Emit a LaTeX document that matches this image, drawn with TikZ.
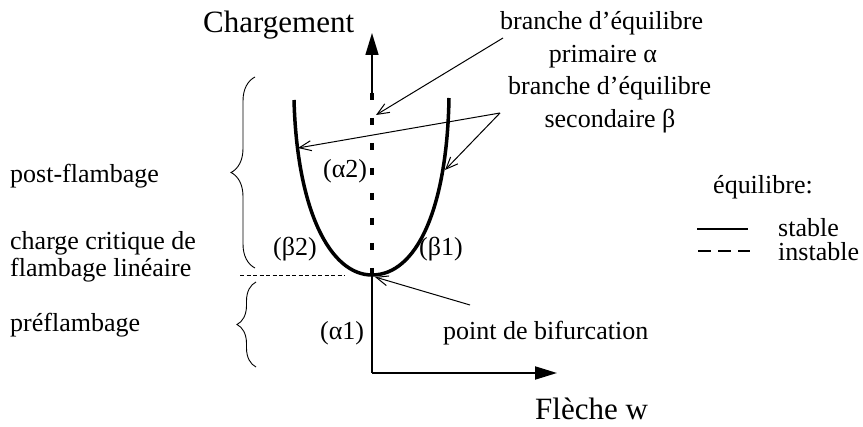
\documentclass[tikz,border=0pt]{standalone}
\usepackage{fontspec}
\setmainfont{Liberation Serif}
\usetikzlibrary{arrows.meta,decorations.pathreplacing}
\begin{document}
\begin{tikzpicture}[x=1pt,y=-1pt,
  lab/.style={inner sep=0pt,font=\fontsize{26}{30}\selectfont},
  biglab/.style={inner sep=0pt,font=\fontsize{31}{36}\selectfont},
  branch/.style={line width=3.5pt},
  ptr/.style={line width=1pt,-{Straight Barb[length=12pt,width=10pt]}},
  axisarrow/.style={-{Triangle[length=22pt,width=13pt]}},
  bracestyle/.style={line width=0.9pt,decorate}
]
\useasboundingbox (0,0) rectangle (863,427);

% coordinates
\coordinate (O) at (372,373);
\coordinate (B) at (372,275);
\coordinate (Ytop) at (372,33);
\coordinate (Xend) at (557,373);
\coordinate (Ltop) at (294,100);
\coordinate (Rtop) at (449,98);

% axes
\draw[line width=1.6pt,axisarrow] (372,100) -- (Ytop);
\draw[line width=2.5pt] (B) -- (O);
\draw[line width=2pt,axisarrow] (O) -- (Xend);
\draw[line width=4pt,dash pattern=on 7pt off 18pt] (372,93) -- (B);

% secondary branches
\draw[branch] (Ltop) .. controls (297,210) and (330,275) .. (B)
              .. controls (416,275) and (447,210) .. (Rtop);

% critical load line
\coordinate (Dl) at (240,275);
\coordinate (Dr) at (345,275);
\draw[line width=0.8pt,dash pattern=on 4pt off 2.5pt] (Dl) -- (Dr);

% braces
\coordinate (Ub) at (255,268);
\coordinate (Ut) at (255,77);
\coordinate (Lb) at (256,367);
\coordinate (Lt) at (256,282);
\draw[bracestyle,decoration={brace,amplitude=24pt}] (Ub) -- (Ut);
\draw[bracestyle,decoration={brace,amplitude=19pt}] (Lb) -- (Lt);

% labels
\node[biglab,anchor=base west] (charg) at (203,33) {Chargement};
\node[biglab,anchor=base west] (fleche) at (535,420) {Flèche w};
\node[lab,anchor=base west] (bp1) at (500,30) {branche d’équilibre};
\node[lab,anchor=base] (bp2) at (603,63) {primaire α};
\node[lab,anchor=base west] (bs1) at (508,95) {branche d’équilibre};
\node[lab,anchor=base] (bs2) at (610,128) {secondaire β};
\node[lab,anchor=base west] (post) at (10,183) {post-flambage};
\node[lab,anchor=base west] (crit1) at (10,250) {charge critique de};
\node[lab,anchor=base west] (crit2) at (10,277) {flambage linéaire};
\node[lab,anchor=base west] (pre) at (10,332) {préflambage};
\node[lab,anchor=base west] (a2) at (323,178) {(α2)};
\node[lab,anchor=base west] (b2) at (273,256) {(β2)};
\node[lab,anchor=base west] (b1) at (419,256) {(β1)};
\node[lab,anchor=base west] (a1) at (320,340) {(α1)};
\node[lab,anchor=base west] (bif) at (443,340) {point de bifurcation};
\node[lab,anchor=base west] (eq) at (713,194) {équilibre:};
\node[lab,anchor=base west,text depth=0pt] (st) at (778,237) {stable};
\node[lab,anchor=base west,text height=17pt] (inst) at (778,261) {instable};

% legend lines
\coordinate (s1) at (697,229);
\coordinate (s2) at (748,229);
\coordinate (d1) at (698,251);
\coordinate (d2) at (750,251);
\draw[line width=2.5pt] (s1) -- (s2);
\draw[line width=2.5pt,dash pattern=on 13pt off 7pt] (d1) -- (d2);

% pointers
\coordinate (pa) at (376,115);
\coordinate (apex) at (500,113);
\coordinate (pl) at (298,148);
\coordinate (pr) at (445,170);
\coordinate (pb) at (375,277);
\draw[ptr] (503,38) -- (pa);
\draw[ptr] (apex) -- (pl);
\draw[ptr] (apex) -- (pr);
\draw[ptr] (470,305) -- (pb);
\end{tikzpicture}
\end{document}
